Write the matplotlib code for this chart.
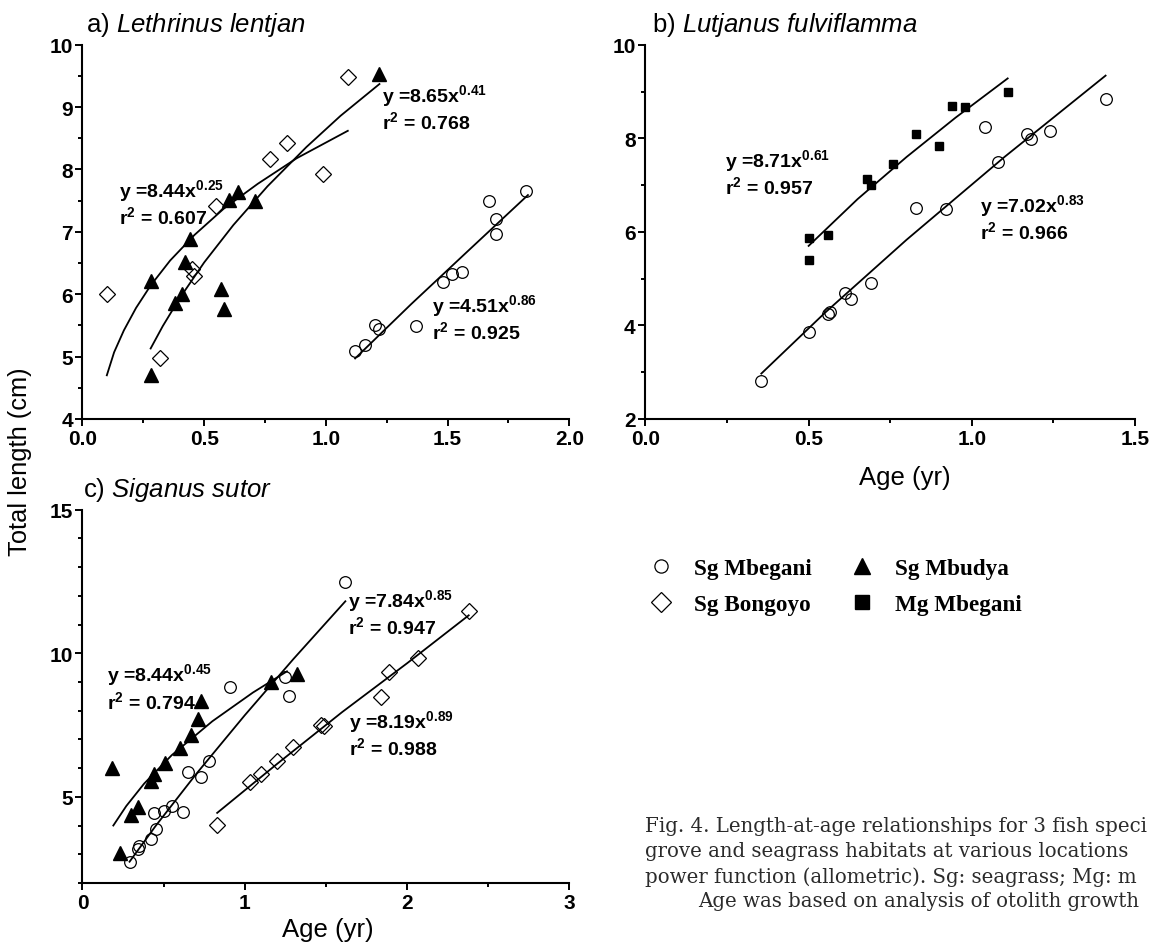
import matplotlib
matplotlib.use('Agg')
import matplotlib.pyplot as plt
from matplotlib.lines import Line2D
from matplotlib.ticker import MultipleLocator

# a) Lethrinus lentjan
a_mbegani_x = [1.12, 1.16, 1.20, 1.22, 1.37, 1.48, 1.52, 1.56, 1.67, 1.70, 1.70, 1.82]
a_mbegani_y = [5.09, 5.19, 5.50, 5.45, 5.49, 6.20, 6.33, 6.35, 7.49, 7.20, 6.96, 7.66]
a_bongoyo_x = [0.10, 0.32, 0.45, 0.46, 0.55, 0.77, 0.84, 0.99, 1.09]
a_bongoyo_y = [6.00, 4.98, 6.41, 6.30, 7.42, 8.17, 8.43, 7.92, 9.49]
a_mbudya_x = [0.28, 0.28, 0.38, 0.41, 0.42, 0.44, 0.57, 0.58, 0.60, 0.64, 0.71, 1.22]
a_mbudya_y = [4.70, 6.21, 5.86, 6.00, 6.52, 6.88, 6.08, 5.77, 7.51, 7.64, 7.50, 9.53]
# fitted curves
a_fit_bongoyo_x = [0.10, 0.13, 0.17, 0.22, 0.28, 0.36, 0.46, 0.58, 0.72, 0.88, 1.09]
a_fit_bongoyo_y = [4.70, 5.07, 5.42, 5.78, 6.14, 6.54, 6.95, 7.37, 7.77, 8.18, 8.62]
a_fit_mbudya_x = [0.28, 0.33, 0.40, 0.50, 0.62, 0.76, 0.92, 1.06, 1.22]
a_fit_mbudya_y = [5.13, 5.49, 5.94, 6.51, 7.11, 7.73, 8.36, 8.86, 9.37]
a_fit_mbegani_x = [1.12, 1.35, 1.58, 1.83]
a_fit_mbegani_y = [4.97, 5.84, 6.68, 7.59]

# b) Lutjanus fulviflamma
b_mbegani_x = [0.355, 0.50, 0.56, 0.565, 0.61, 0.63, 0.69, 0.83, 0.92, 1.04, 1.08, 1.17, 1.18, 1.24, 1.41]
b_mbegani_y = [2.82, 3.86, 4.24, 4.29, 4.70, 4.57, 4.90, 6.50, 6.49, 8.24, 7.49, 8.10, 7.99, 8.16, 8.83]
b_mg_x = [0.50, 0.50, 0.56, 0.68, 0.69, 0.76, 0.83, 0.90, 0.94, 0.98, 1.11]
b_mg_y = [5.39, 5.86, 5.94, 7.13, 7.00, 7.46, 8.10, 7.83, 8.69, 8.66, 8.99]
b_fit_mg_x = [0.50, 0.65, 0.80, 0.95, 1.11]
b_fit_mg_y = [5.70, 6.70, 7.60, 8.44, 9.28]
b_fit_mbegani_x = [0.355, 0.55, 0.80, 1.10, 1.41]
b_fit_mbegani_y = [2.97, 4.27, 5.83, 7.60, 9.34]

# c) Siganus sutor
c_mbegani_x = [0.29, 0.34, 0.35, 0.42, 0.45, 0.44, 0.50, 0.55, 0.62, 0.65, 0.73, 0.78, 0.91, 1.25, 1.27, 1.62]
c_mbegani_y = [2.74, 3.18, 3.30, 3.53, 3.88, 4.44, 4.52, 4.69, 4.46, 5.85, 5.68, 6.26, 8.84, 9.16, 8.50, 12.47]
c_bongoyo_x = [0.83, 1.03, 1.10, 1.20, 1.30, 1.47, 1.49, 1.84, 1.89, 2.07, 2.38]
c_bongoyo_y = [4.03, 5.50, 5.80, 6.24, 6.72, 7.51, 7.48, 8.49, 9.36, 9.82, 11.48]
c_mbudya_x = [0.18, 0.23, 0.30, 0.34, 0.42, 0.44, 0.51, 0.60, 0.67, 0.71, 0.73, 1.16, 1.32]
c_mbudya_y = [6.02, 3.05, 4.37, 4.65, 5.56, 5.80, 6.18, 6.69, 7.15, 7.71, 8.33, 9.01, 9.28]
c_fit_mbudya_x = [0.19, 0.27, 0.38, 0.55, 0.80, 1.05, 1.26]
c_fit_mbudya_y = [4.00, 4.68, 5.46, 6.45, 7.63, 8.63, 9.37]
c_fit_mbegani_x = [0.29, 0.45, 0.70, 1.00, 1.30, 1.62]
c_fit_mbegani_y = [2.74, 3.98, 5.79, 7.84, 9.80, 11.81]
c_fit_bongoyo_x = [0.83, 1.20, 1.60, 2.00, 2.38]
c_fit_bongoyo_y = [4.44, 6.15, 7.95, 9.65, 11.32]

legend_labels = ['Sg Mbegani', 'Sg Bongoyo', 'Sg Mbudya', 'Mg Mbegani']

# caption as far as the source page shows it (cut at the right edge)
caption_lines = [
    'Fig. 4. Length-at-age relationships for 3 fish speci',
    'grove and seagrass habitats at various locations',
    'power function (allometric). Sg: seagrass; Mg: m',
    'Age was based on analysis of otolith growth',
]

plt.rcParams['font.family'] = ['Liberation Sans', 'DejaVu Sans']
plt.rcParams['font.weight'] = 'bold'
plt.rcParams['mathtext.fontset'] = 'custom'
plt.rcParams['mathtext.it'] = 'Liberation Sans:slant=italic:weight=normal'
plt.rcParams['mathtext.default'] = 'regular'

circle = dict(marker='o', ms=8.4, mfc='none', mec='black', mew=0.9, ls='none', zorder=3)
diamond = dict(marker='D', ms=8, mfc='none', mec='black', mew=0.9, ls='none', zorder=3)
triangle = dict(marker='^', ms=9.5, color='black', ls='none', zorder=3)
square = dict(marker='s', ms=6, color='black', ls='none', zorder=3)
fit = dict(color='black', lw=1.3, zorder=2)


def style_axis(ax, xlim, ylim, xmaj, xmin, ymaj, ymin):
    ax.set_xlim(xlim)
    ax.set_ylim(ylim)
    ax.xaxis.set_major_locator(MultipleLocator(xmaj))
    ax.xaxis.set_minor_locator(MultipleLocator(xmin))
    ax.yaxis.set_major_locator(MultipleLocator(ymaj))
    ax.yaxis.set_minor_locator(MultipleLocator(ymin))
    ax.spines['top'].set_visible(False)
    ax.spines['right'].set_visible(False)
    ax.spines['left'].set_linewidth(1.5)
    ax.spines['bottom'].set_linewidth(1.5)
    ax.tick_params(which='major', length=5, width=1.4, labelsize=15, pad=2)
    ax.tick_params(which='minor', length=3, width=1.4)


def equation(ax, x, y, a, b, r2):
    ax.text(x, y, 'y =%sx$^{%s}$' % (a, b), fontsize=14, weight='bold', va='baseline')
    ax.annotate('r$^{2}$ = %s' % r2, (x, y), xytext=(0, -19.5), textcoords='offset points',
                fontsize=14, weight='bold', va='baseline')


fig = plt.figure(figsize=(11.52, 9.45), dpi=100)
ax_a = fig.add_axes([0.0716, 0.5556, 0.4226, 0.3960])
ax_b = fig.add_axes([0.5603, 0.5556, 0.4249, 0.3960])
ax_c = fig.add_axes([0.0716, 0.0646, 0.4226, 0.3950])

# panel a
ax_a.plot(a_fit_bongoyo_x, a_fit_bongoyo_y, **fit)
ax_a.plot(a_fit_mbudya_x, a_fit_mbudya_y, **fit)
ax_a.plot(a_fit_mbegani_x, a_fit_mbegani_y, **fit)
ax_a.plot(a_mbegani_x, a_mbegani_y, **circle)
ax_a.plot(a_bongoyo_x, a_bongoyo_y, **diamond)
ax_a.plot(a_mbudya_x, a_mbudya_y, **triangle)
style_axis(ax_a, (0, 2), (4, 10), 0.5, 0.25, 1, 0.5)
equation(ax_a, 0.150, 7.575, '8.44', '0.25', '0.607')
equation(ax_a, 1.229, 9.10, '8.65', '0.41', '0.768')
equation(ax_a, 1.434, 5.73, '4.51', '0.86', '0.925')

# panel b
ax_b.plot(b_fit_mg_x, b_fit_mg_y, **fit)
ax_b.plot(b_fit_mbegani_x, b_fit_mbegani_y, **fit)
ax_b.plot(b_mbegani_x, b_mbegani_y, **circle)
ax_b.plot(b_mg_x, b_mg_y, **square)
style_axis(ax_b, (0, 1.5), (2, 10), 0.5, 0.25, 2, 1)
equation(ax_b, 0.244, 7.41, '8.71', '0.61', '0.957')
equation(ax_b, 1.026, 6.45, '7.02', '0.83', '0.966')

# panel c
ax_c.plot(c_fit_mbudya_x, c_fit_mbudya_y, **fit)
ax_c.plot(c_fit_mbegani_x, c_fit_mbegani_y, **fit)
ax_c.plot(c_fit_bongoyo_x, c_fit_bongoyo_y, **fit)
ax_c.plot(c_mbegani_x, c_mbegani_y, **circle)
ax_c.plot(c_bongoyo_x, c_bongoyo_y, **diamond)
ax_c.plot(c_mbudya_x, c_mbudya_y, **triangle)
style_axis(ax_c, (0, 3), (2, 15), 1, 0.5, 5, 1)
equation(ax_c, 1.637, 11.63, '7.84', '0.85', '0.947')
equation(ax_c, 0.152, 9.05, '8.44', '0.45', '0.794')
equation(ax_c, 1.643, 7.44, '8.19', '0.89', '0.988')

# panel titles and axis labels
fig.text(0.0747, 0.9665, r'a) $\mathit{Lethrinus\ lentjan}$', fontsize=18.5, weight='normal', va='baseline')
fig.text(0.566, 0.9665, r'b) $\mathit{Lutjanus\ fulviflamma}$', fontsize=18.5, weight='normal', va='baseline')
fig.text(0.072, 0.4744, r'c) $\mathit{Siganus\ sutor}$', fontsize=18.5, weight='normal', va='baseline')
fig.text(20 / 1152, 1 - 462 / 945, 'Total length (cm)', rotation=90, fontsize=18.3,
         weight='normal', ha='center', va='center')
fig.text(905 / 1152, 1 - 478 / 945, 'Age (yr)', fontsize=18.5, weight='normal', ha='center', va='center')
fig.text(328 / 1152, 1 - 930 / 945, 'Age (yr)', fontsize=18.5, weight='normal', ha='center', va='center')

# legend
handles = [
    Line2D([], [], marker='o', ms=9.5, mfc='none', mec='black', mew=0.9, ls='none'),
    Line2D([], [], marker='D', ms=10, mfc='none', mec='black', mew=0.9, ls='none'),
    Line2D([], [], marker='^', ms=12, color='black', ls='none'),
    Line2D([], [], marker='s', ms=10.5, color='black', ls='none'),
]
fig.legend(handles, legend_labels, loc='upper left', bbox_to_anchor=(649 / 1152, 1 - 559 / 945),
           ncol=2, frameon=False, borderpad=0, borderaxespad=0, handlelength=1.0,
           handletextpad=0.95, columnspacing=1.65, labelspacing=0.62,
           prop={'family': 'Liberation Serif', 'weight': 'bold', 'size': 16.7})

cap_y = [826.7, 851.7, 876.7, 901.7]
cap_x = [645, 645, 645, 698]
for line, x, y in zip(caption_lines, cap_x, cap_y):
    fig.text(x / 1152, 1 - y / 945, line, family='DejaVu Serif', fontsize=14.2,
             weight='normal', color='#2b2b2b', va='center')

fig.savefig('out.png', dpi=100)
